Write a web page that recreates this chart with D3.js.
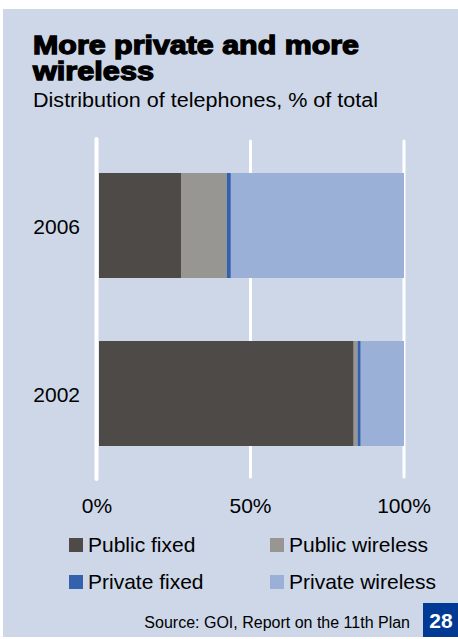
<!DOCTYPE html>
<html>
<head>
<meta charset="utf-8">
<script src="https://cdn.jsdelivr.net/npm/d3@7"></script>
<style>
  body { margin: 0; background: #fff; }
  text { font-family: "Liberation Sans", Arial, sans-serif; }
</style>
</head>
<body>
<svg width="458" height="639"></svg>
<script>
// data
var years = ["2006", "2002"];
var series = ["Public fixed", "Public wireless", "Private fixed", "Private wireless"];
var publicFixed = [27.5, 83.6];
var publicWireless = [14.8, 1.3];
var privateFixed = [1.3, 1.0];
var privateWireless = [56.4, 14.1];
var ticks = [0, 50, 100];
var colors = ["#4d4a48", "#979693", "#3461ad", "#9bb0d6"];

var svg = d3.select("svg");

// panel
svg.append("rect").attr("x", 3).attr("y", 9).attr("width", 455).attr("height", 628)
  .attr("fill", "#cdd7e8");

// titles
svg.append("text").attr("x", 33).attr("y", 54).text("More private and more")
  .style("font-size", "26px").style("font-weight", "bold")
  .attr("textLength", 326).attr("lengthAdjust", "spacingAndGlyphs")
  .attr("stroke", "#000").attr("stroke-width", 1.3);
svg.append("text").attr("x", 33).attr("y", 80).text("wireless")
  .style("font-size", "26px").style("font-weight", "bold")
  .attr("textLength", 121).attr("lengthAdjust", "spacingAndGlyphs")
  .attr("stroke", "#000").attr("stroke-width", 1.3);
svg.append("text").attr("x", 33).attr("y", 107).text("Distribution of telephones, % of total")
  .style("font-size", "20px")
  .attr("textLength", 345).attr("lengthAdjust", "spacingAndGlyphs");

var table = years.map(function(y, i) {
  return { year: y, "Public fixed": publicFixed[i], "Public wireless": publicWireless[i],
    "Private fixed": privateFixed[i], "Private wireless": privateWireless[i] };
});
var stacked = d3.stack().keys(series)(table);

var x = d3.scaleLinear().domain([0, 100]).range([97, 404]);
var y = d3.scaleBand().domain(years).range([173, 446]).paddingInner(0.375).paddingOuter(0);
var color = d3.scaleOrdinal().domain(series).range(colors);

// gridlines
svg.append("g").selectAll("line").data(ticks).enter().append("line")
  .attr("x1", function(d) { return x(d) - (d === 0 ? 0.5 : 0); })
  .attr("x2", function(d) { return x(d) - (d === 0 ? 0.5 : 0); })
  .attr("y1", function(d) { return d === 0 ? 139 : 141; })
  .attr("y2", function(d) { return d === 0 ? 479 : 477; })
  .attr("stroke", "#fff")
  .attr("stroke-width", function(d) { return d === 0 ? 4 : 3; })
  .attr("stroke-linecap", "round");

// bars
svg.append("g").selectAll("g").data(stacked).enter().append("g")
  .attr("fill", function(d) { return color(d.key); })
  .selectAll("rect").data(function(d) { return d; }).enter().append("rect")
  .attr("x", function(d) { return d[0] === 0 ? x(0) + 2 : x(d[0]); })
  .attr("width", function(d) { return x(d[1]) - (d[0] === 0 ? x(0) + 2 : x(d[0])); })
  .attr("y", function(d) { return y(d.data.year); })
  .attr("height", y.bandwidth());

// year labels
svg.append("g").selectAll("text").data(years).enter().append("text")
  .attr("x", 80).attr("y", function(d) { return y(d) + y.bandwidth() / 2 + 8; })
  .attr("text-anchor", "end")
  .style("font-size", "21px")
  .text(function(d) { return d; });

// x axis labels
svg.append("g").selectAll("text").data(ticks).enter().append("text")
  .attr("x", function(d) { return x(d); }).attr("y", 513)
  .attr("text-anchor", "middle")
  .style("font-size", "21px")
  .text(function(d) { return d + "%"; });

// legend
var legend = svg.append("g").selectAll("g").data(series).enter().append("g")
  .attr("transform", function(d, i) {
    return "translate(" + (i % 2 === 0 ? 69 : 270) + "," + (i < 2 ? 538 : 575) + ")";
  });
legend.append("rect").attr("width", 14).attr("height", 14)
  .attr("fill", function(d) { return color(d); });
legend.append("text").attr("x", 19).attr("y", 14)
  .style("font-size", "21px")
  .text(function(d) { return d; });

// source
svg.append("text").attr("x", 410).attr("y", 628).attr("text-anchor", "end")
  .style("font-size", "16px").text("Source: GOI, Report on the 11th Plan");

svg.append("rect").attr("x", 423).attr("y", 603).attr("width", 35).attr("height", 34)
  .attr("fill", "#003a94");
svg.append("text").attr("x", 441).attr("y", 628).attr("text-anchor", "middle")
  .style("font-size", "21px").style("font-weight", "bold").attr("fill", "#fff")
  .text("28");
</script>
</body>
</html>
